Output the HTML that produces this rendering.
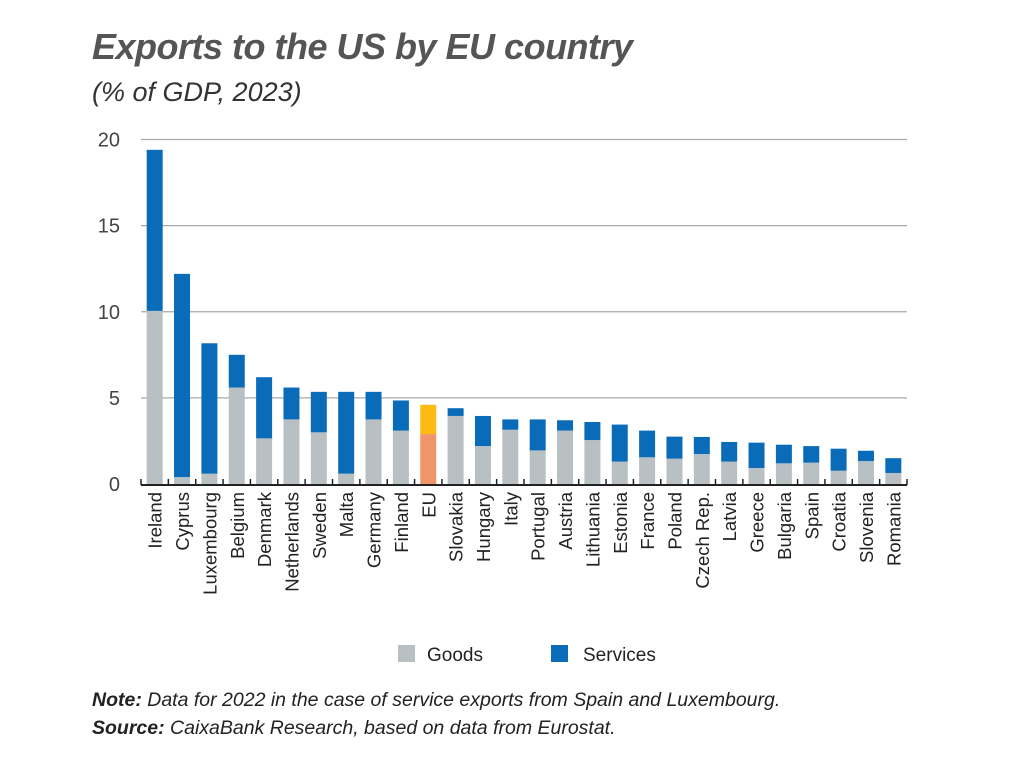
<!DOCTYPE html>
<html><head><meta charset="utf-8"><style>
body{margin:0;background:#fff;width:1011px;height:774px;overflow:hidden;font-family:"Liberation Sans",sans-serif;}
.t{position:absolute;white-space:nowrap;}
</style></head><body>
<div class="t" style="left:92px;top:26px;font-size:36px;font-weight:bold;font-style:italic;color:#555;letter-spacing:-0.5px">Exports to the US by EU country</div>
<div class="t" style="left:92px;top:77px;font-size:27px;font-style:italic;color:#333">(% of GDP, 2023)</div>
<svg id="c" width="1011" height="774" style="position:absolute;left:0;top:0"></svg>
<div class="t" style="left:92px;top:689px;font-size:19.5px;font-style:italic;color:#222"><b>Note:</b> Data for 2022 in the case of service exports from Spain and Luxembourg.</div>
<div class="t" style="left:92px;top:717px;font-size:19.5px;font-style:italic;color:#222"><b>Source:</b> CaixaBank Research, based on data from Eurostat.</div>
<script>
const categories=["Ireland","Cyprus","Luxembourg","Belgium","Denmark","Netherlands","Sweden","Malta","Germany","Finland","EU","Slovakia","Hungary","Italy","Portugal","Austria","Lithuania","Estonia","France","Poland","Czech Rep.","Latvia","Greece","Bulgaria","Spain","Croatia","Slovenia","Romania"];
const goods=[10.05,0.4,0.6,5.6,2.65,3.75,3.0,0.6,3.75,3.1,2.9,3.95,2.2,3.15,1.95,3.1,2.55,1.3,1.55,1.47,1.74,1.3,0.93,1.2,1.24,0.77,1.33,0.64];
const totals=[19.4,12.2,8.17,7.5,6.2,5.6,5.35,5.35,5.35,4.85,4.6,4.4,3.95,3.75,3.75,3.7,3.6,3.45,3.1,2.75,2.73,2.44,2.4,2.28,2.2,2.05,1.93,1.5];
const yTicks=[0,5,10,15,20];
const NS="http://www.w3.org/2000/svg",svg=document.getElementById('c');
const x0=141,x1=907,y0=484,y20=139.5;
const y=v=>y0-(y0-y20)*v/20;
const n=categories.length,step=(x1-x0)/n;
const xc=i=>x0+step*(i+0.5);
function mk(t,a){const e=document.createElementNS(NS,t);for(const k in a)e.setAttribute(k,a[k]);svg.appendChild(e);return e;}
yTicks.forEach(v=>{
 if(v>0){const g=mk('line',{x1:x0,x2:x1,y1:y(v),y2:y(v),stroke:'#aaa','stroke-width':1.3});
 
 }
 const t=mk('text',{x:120,y:y(v)+7,'text-anchor':'end','font-size':20,fill:'#444'});t.textContent=v;
 
 
});
categories.forEach((c,i)=>{
 const eu=c==="EU",w=16,xl=xc(i)-w/2;
 const g=mk('rect',{x:xl,y:y(goods[i]),width:w,height:y0-y(goods[i]),fill:eu?'#f0956a':'#b9c0c4'});
 
 
 const s=mk('rect',{x:xl,y:y(totals[i]),width:w,height:y(goods[i])-y(totals[i]),fill:eu?'#fbbb12':'#0a6cb8'});
 
 
 const t=mk('text',{x:0,y:0,transform:`translate(${xc(i)+7},492) rotate(-90)`,'text-anchor':'end','font-size':18.5,fill:'#222'});t.textContent=c;
 
 
});
for(let i=0;i<=n;i++){const tk=mk('line',{x1:x0+step*i,x2:x0+step*i,y1:y0-5,y2:y0+1,stroke:'#222','stroke-width':1.5});
 
 }
const ax=mk('line',{x1:x0,x2:x1,y1:y0+1,y2:y0+1,stroke:'#222','stroke-width':2});


[[398,'#b9c0c4','Goods',427],[551,'#0a6cb8','Services',583]].forEach(l=>{
 const r=mk('rect',{x:l[0],y:645,width:17,height:17,fill:l[1]});
 
 
 const t=mk('text',{x:l[3],y:661,'font-size':19,fill:'#222'});t.textContent=l[2];
 
 
});
</script>
</body></html>
